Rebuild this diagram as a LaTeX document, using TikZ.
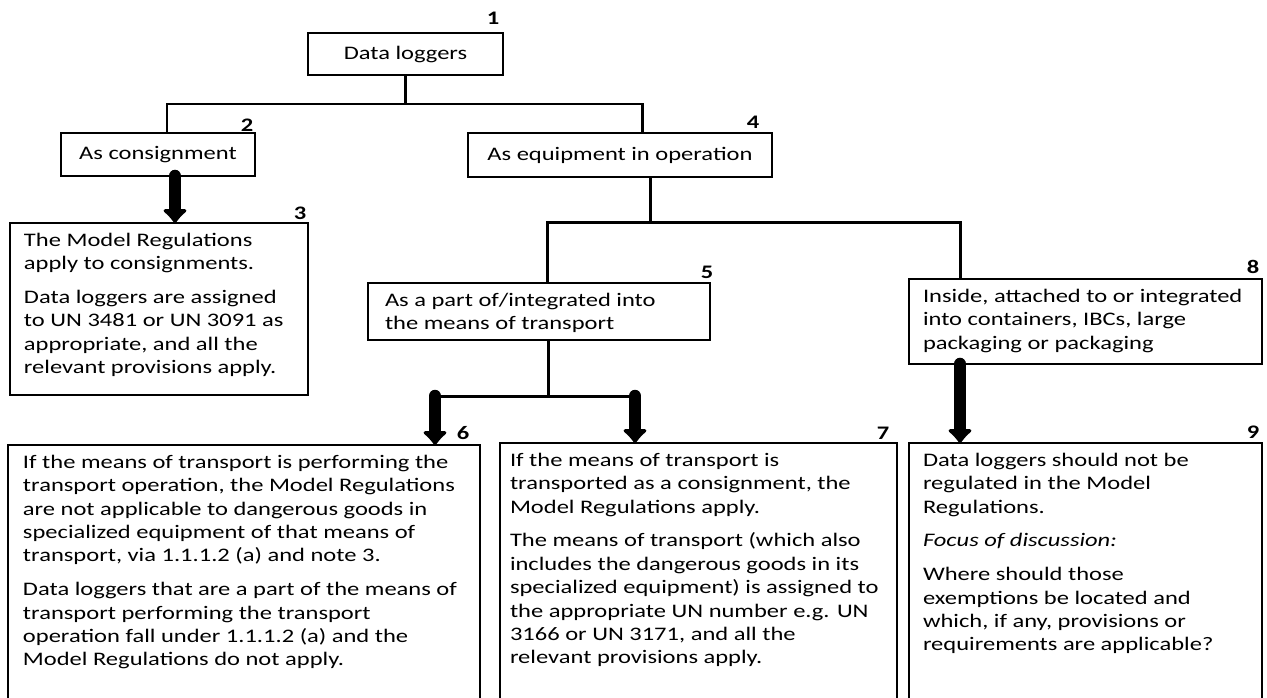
\documentclass[tikz,border=0pt]{standalone}
\usepackage{fontspec}
\setmainfont{Carlito}[FakeStretch=1.28]
\usetikzlibrary{arrows.meta}

\begin{document}
\begin{tikzpicture}[
    x=0.02cm, y=-0.02cm,
    font=\fontsize{10.9}{13.3}\selectfont,
    box/.style={draw, line width=1.5pt, outer sep=0pt, anchor=north west},
    para/.style={draw, line width=1.5pt, inner xsep=0pt, inner ysep=0.2cm, outer sep=0pt, anchor=north west},
    wire/.style={line width=1.7pt},
    fat/.style={line width=0.25cm, line cap=round, -{Latex[round, length=0.3cm, width=0.6cm, line width=3pt]}},
    num/.style={font=\fontsize{10.9}{13.3}\selectfont\bfseries}
]

    \useasboundingbox (0,0) rectangle (1267,697);
    \clip (0,0) rectangle (1267,697);

    % --- Upper boxes ---
    \node[box, minimum width=3.9cm, minimum height=0.84cm] (b1) at (308,33) {Data loggers};
    \node[box, minimum width=3.88cm, minimum height=0.86cm] (b2) at (61,133) {As consignment};
    \node[box, minimum width=6.08cm, minimum height=0.88cm] (b4) at (468,133) {As equipment in operation};

    % --- Middle boxes ---
    \node[para, minimum width=5.96cm] (b3) at (10,223) {\parbox[t][3.04cm][t]{5.4cm}{\raggedright
        The Model Regulations\\
        apply to consignments.\\[6pt]
        Data loggers are assigned\\
        to UN 3481 or UN 3091 as\\
        appropriate, and all the\\
        relevant provisions apply.}};
    \node[para, minimum width=6.84cm] (b5) at (368,283) {\parbox[t][0.74cm][t]{6.16cm}{\raggedright
        As a part of/integrated into\\
        the means of transport}};
    \node[para, minimum width=7.06cm] (b8) at (909,279) {\parbox[t][1.3cm][t]{6.5cm}{\raggedright
        Inside, attached to or integrated\\
        into containers, IBCs, large\\
        packaging or packaging}};

    % --- Bottom boxes (run past the lower edge) ---
    \node[para, minimum width=9.44cm] (b6) at (8,445) {\parbox[t][4.8cm][t]{8.84cm}{\raggedright
        If the means of transport is performing the\\
        transport operation, the Model Regulations\\
        are not applicable to dangerous goods in\\
        specialized equipment of that means of\\
        transport, via 1.1.1.2 (a) and note 3.\\[6pt]
        Data loggers that are a part of the means of\\
        transport performing the transport\\
        operation fall under 1.1.1.2 (a) and the\\
        Model Regulations do not apply.}};
    \node[para, minimum width=7.94cm] (b7) at (500,443) {\parbox[t][4.8cm][t]{7.54cm}{\raggedright
        If the means of transport is\\
        transported as a consignment, the\\
        Model Regulations apply.\\[6pt]
        The means of transport (which also\\
        includes the dangerous goods in its\\
        specialized equipment) is assigned to\\
        the appropriate UN number e.g. UN\\
        3166 or UN 3171, and all the\\
        relevant provisions apply.}};
    \node[para, minimum width=7.06cm] (b9) at (909,443) {\parbox[t][4.8cm][t]{6.5cm}{\raggedright
        Data loggers should not be\\
        regulated in the Model\\
        Regulations.\\[6pt]
        \textit{Focus of discussion:}\\[6pt]
        Where should those\\
        exemptions be located and\\
        which, if any, provisions or\\
        requirements are applicable?}};

    % --- Box numbers ---
    \node[num] (n1) at (493,18) {1};
    \node[num] (n2) at (247,125) {2};
    \node[num] (n3) at (300,213) {3};
    \node[num] (n4) at (753,122) {4};
    \node[num] (n5) at (707,272) {5};
    \node[num] (n6) at (463,433) {6};
    \node[num] (n7) at (883,433) {7};
    \node[num] (n8) at (1253,267) {8};
    \node[num] (n9) at (1253,432) {9};

    % --- Branches below box 1 ---
    \coordinate (t1) at (167,104);
    \coordinate (t2) at (642,104);
    \draw[wire] (b1.south) -- (b1.south |- t1);
    \draw[wire] (t1 |- b2.north) -- (t1) -- (t2) -- (t2 |- b4.north);

    % --- Branches below box 4 ---
    \coordinate (s4) at (650,222);
    \coordinate (t3) at (547,222);
    \coordinate (t4) at (960,222);
    \draw[wire] (s4 |- b4.south) -- (s4);
    \draw[wire] (t3 |- b5.north) -- (t3) -- (t4) -- (t4 |- b8.north);

    % --- Branches below box 5 ---
    \coordinate (s5) at (548,396);
    \coordinate (t6) at (435,396);
    \coordinate (t7) at (635,396);
    \draw[wire] (s5 |- b5.south) -- (s5);
    \draw[wire] (t6) -- (t7);

    % --- Thick arrows ---
    \draw[fat] ([xshift=0.34cm]b2.south) -- ([xshift=0.34cm]b2.south |- b3.north);
    \draw[fat] (t6) -- (t6 |- b6.north);
    \draw[fat] (t7) -- (t7 |- b7.north);
    \draw[fat] (t4 |- b8.south) -- (t4 |- b9.north);

\end{tikzpicture}
\end{document}
